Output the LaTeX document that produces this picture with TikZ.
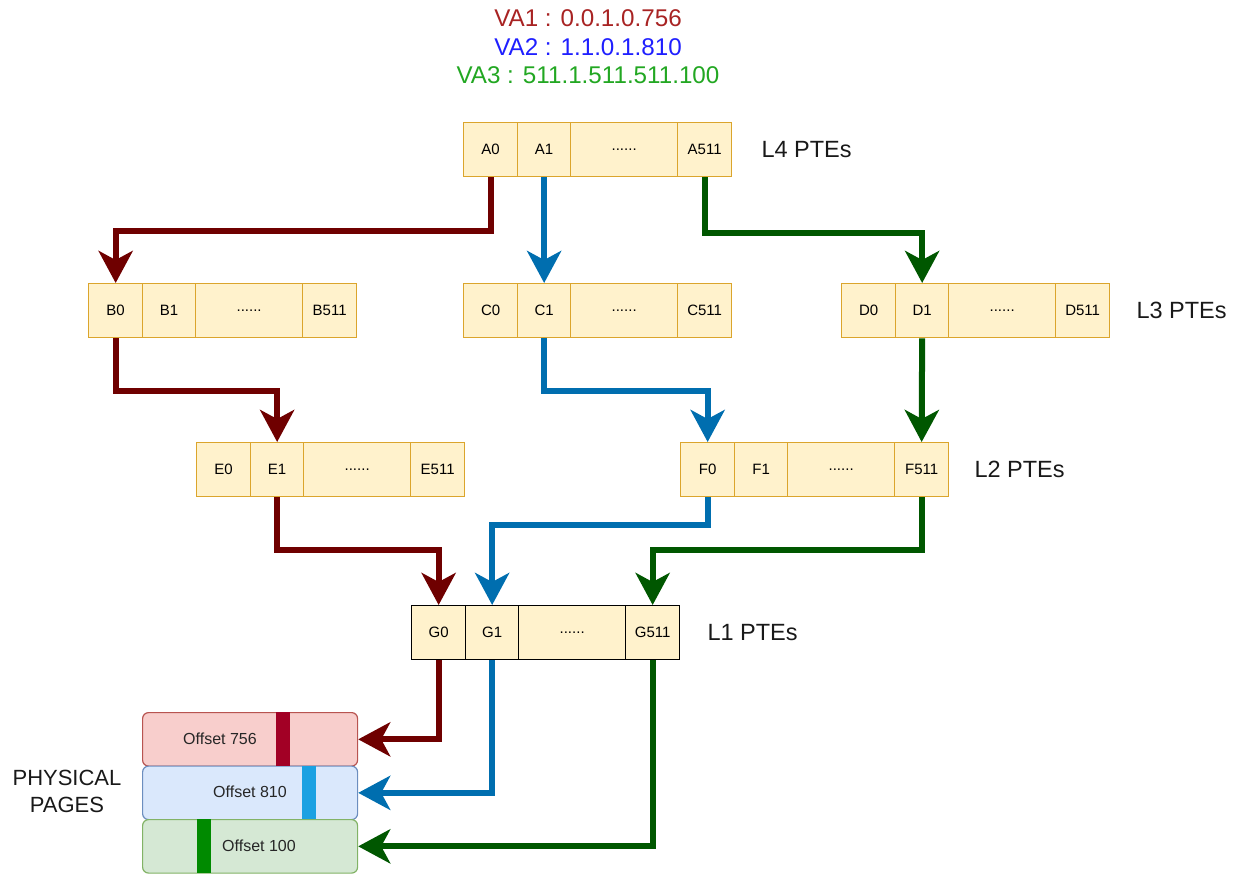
\documentclass[tikz,border=0pt]{standalone}
\usepackage{fontspec}
\setmainfont{Liberation Sans}
\usepackage{tikz}
\usetikzlibrary{arrows.meta, positioning, calc}
\definecolor{ptefill}  {HTML}{FFF2CC}
\definecolor{ptedraw}  {HTML}{DBA52C}
\definecolor{walkred}  {HTML}{6F0000}
\definecolor{walkblue} {HTML}{006EAF}
\definecolor{walkgreen}{HTML}{005700}
\definecolor{vared}    {HTML}{A82323}
\definecolor{vablue}   {HTML}{1F1FFF}
\definecolor{vagreen}  {HTML}{22A722}
\definecolor{pgred}    {HTML}{F8CECC}
\definecolor{pgredd}   {HTML}{B85450}
\definecolor{pgblue}   {HTML}{DAE8FC}
\definecolor{pgblued}  {HTML}{6C8EBF}
\definecolor{pggreen}  {HTML}{D5E8D4}
\definecolor{pggreend} {HTML}{82B366}
\definecolor{barred}   {HTML}{A20025}
\definecolor{barblue}  {HTML}{1BA1E2}
\definecolor{bargreen} {HTML}{008A00}
\newcommand{\rowdots}{......}

\tikzset{
  cell/.style={fill=ptefill, line width=1.3pt, minimum height=54pt, inner sep=0pt,
               font=\fontsize{15}{18}\selectfont, anchor=north west},
  levellabel/.style={font=\fontsize{23.5}{28}\selectfont, text=black!90, inner sep=0pt},
  walk/.style={line width=6pt, -{Stealth[length=32pt, width=34pt, inset=9pt]}},
  page/.style={rounded corners=6pt, line width=1.2pt, minimum width=215pt,
               minimum height=53.5pt, anchor=north west, inner sep=0pt},
  pagetext/.style={font=\fontsize{16}{19}\selectfont, text=black!85}
}

\begin{document}
\begin{tikzpicture}[x=1pt, y=-1pt]
  \useasboundingbox (0,0) rectangle (1237,874);

  % virtual addresses
  \node[font=\fontsize{24.2}{29}\selectfont, text=vared]   (va1) at (588,18) {VA1 : 0.0.1.0.756};
  \node[font=\fontsize{24.2}{29}\selectfont, text=vablue]  (va2) at (588,47) {VA2 : 1.1.0.1.810};
  \node[font=\fontsize{24.2}{29}\selectfont, text=vagreen] (va3) at (588,75) {VA3 : 511.1.511.511.100};

  % page table rows
  \foreach \t/\px/\py/\c in {A/463/122/ptedraw, B/88/283/ptedraw, C/463/283/ptedraw,
                             D/841/283/ptedraw, E/196/442/ptedraw, F/680/442/ptedraw,
                             G/411/605/black}
    \foreach \n/\dx/\w/\lbl in {0/0/54/\t0, 1/54/53/\t1, dots/107/107/\rowdots, 511/214/54/\t511}
      \node[cell, draw=\c, minimum width=\w pt] (\t\n) at (\px+\dx,\py) {\lbl};

  \node[levellabel, right=29pt of A511] (l4) {L4 PTEs};
  \node[levellabel, right=26pt of D511] (l3) {L3 PTEs};
  \node[levellabel, right=25pt of F511] (l2) {L2 PTEs};
  \node[levellabel, right=27pt of G511] (l1) {L1 PTEs};

  % physical pages
  \node[page, fill=pgred,   draw=pgredd]   (page756) at (142,712) {};
  \node[page, fill=pgblue,  draw=pgblued]  (page810) at (142,765.5) {};
  \node[page, fill=pggreen, draw=pggreend] (page100) at (142,819) {};
  \fill[barred]   (276,712) rectangle (290,765.5);
  \fill[barblue]  (302,765.5) rectangle (316,819);
  \fill[bargreen] (197,819) rectangle (211,872.5);
  \node[pagetext] (off756) at (220,738.5) {Offset 756};
  \node[pagetext] (off810) at (250,792) {Offset 810};
  \node[pagetext] (off100) at (259,846) {Offset 100};
  \node[font=\fontsize{22}{27}\selectfont, align=center, text=black!90] (phys) at (67,791)
    {PHYSICAL\\PAGES};

  % walk of VA1
  \draw[walk, walkred] (A0.south) -- ++(0,54) -| (B0.north);
  \draw[walk, walkred] (B0.south) -- ++(0,53) -| (E1.north);
  \draw[walk, walkred] (E1.south) -- ++(0,53) -| (G0.north);
  \draw[walk, walkred] (G0.south) |- (page756.east);

  % walk of VA2
  \draw[walk, walkblue] (A1.south) -- (C1.north);
  \draw[walk, walkblue] (C1.south) -- ++(0,53) -| (F0.north);
  \draw[walk, walkblue] (F0.south) -- ++(0,28) -| (G1.north);
  \draw[walk, walkblue] (G1.south) |- (page810.east);

  % walk of VA3
  \draw[walk, walkgreen] (A511.south) -- ++(0,56) -| (D1.north);
  \draw[walk, walkgreen] (D1.south) -- (F511.north);
  \draw[walk, walkgreen] (F511.south) -- ++(0,53) -| (G511.north);
  \draw[walk, walkgreen] (G511.south) |- (page100.east);
\end{tikzpicture}
\end{document}
